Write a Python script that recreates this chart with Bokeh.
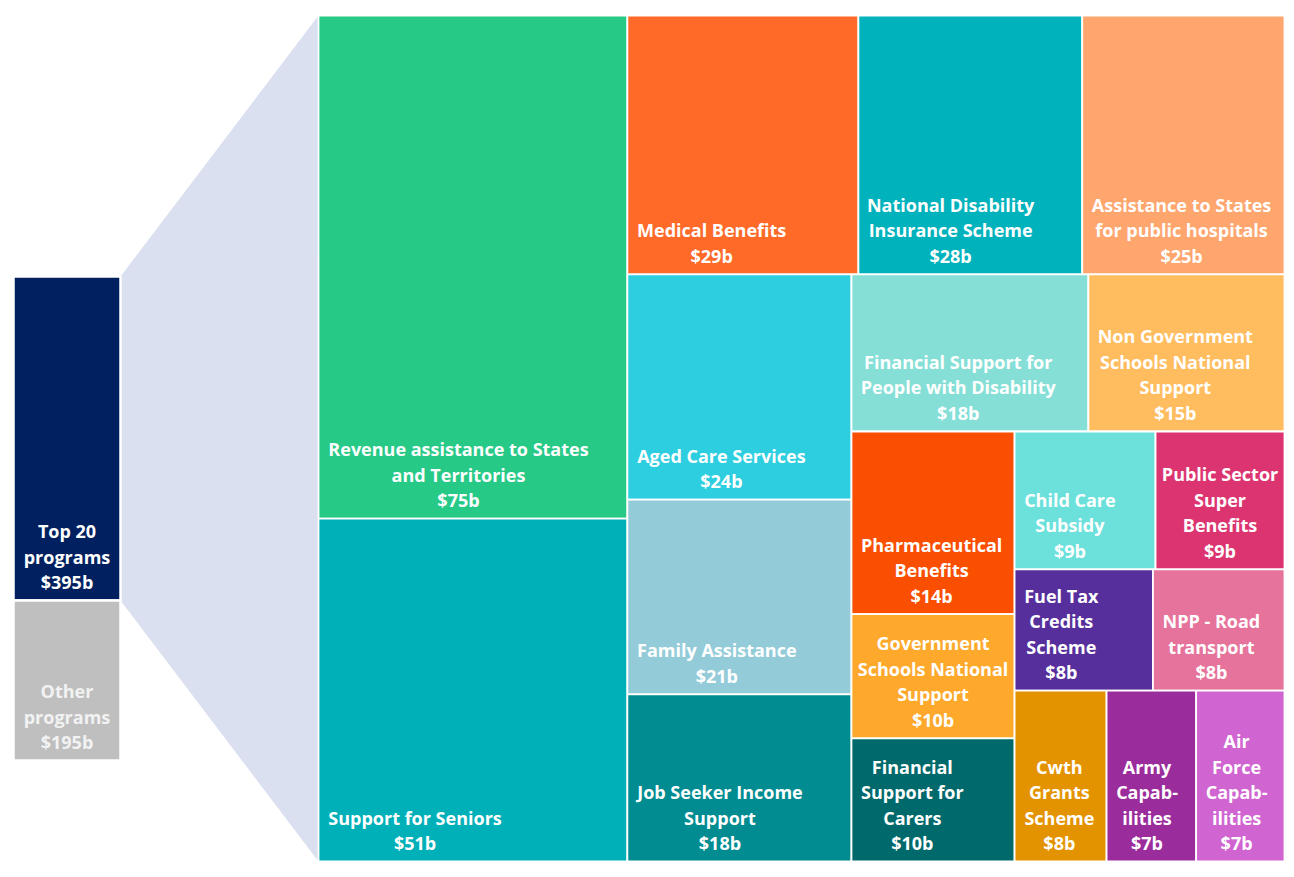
from bokeh.plotting import figure
from bokeh.models import Range1d
from bokeh.embed import file_html
from bokeh.resources import INLINE
from bokeh.core.properties import value

# ---------------- data ----------------
programs = [
    "Revenue assistance to States\nand Territories",
    "Support for Seniors",
    "Medical Benefits",
    "National Disability\nInsurance Scheme",
    "Assistance to States\nfor public hospitals",
    "Aged Care Services",
    "Family Assistance",
    "Job Seeker Income\nSupport",
    "Financial Support for\nPeople with Disability",
    "Non Government\nSchools National\nSupport",
    "Pharmaceutical\nBenefits",
    "Government\nSchools National\nSupport",
    "Financial\nSupport for\nCarers",
    "Child Care\nSubsidy",
    "Public Sector\nSuper\nBenefits",
    "Fuel Tax\nCredits\nScheme",
    "NPP - Road\ntransport",
    "Cwth\nGrants\nScheme",
    "Army\nCapab-\nilities",
    "Air\nForce\nCapab-\nilities",
]
values = [75.1, 51.2, 28.9, 28.0, 25.3, 24.4, 21.1, 18.1, 18.0, 14.9,
          14.4, 9.8, 9.7, 9.4, 8.6, 8.1, 7.7, 7.6, 7.4, 7.3]
colors = ["#27C987", "#00B0B9", "#FF6A28", "#00B2BC", "#FFA56E",
          "#2DCEE0", "#94CBD9", "#008C91", "#85DFD7", "#FFBD5F",
          "#FA4E00", "#FEA82C", "#00696B", "#6CE1DB", "#DB3470",
          "#572F9D", "#E6739B", "#E49300", "#9B2C9C", "#D065D1"]

group_labels = ["Top 20\nprograms", "Other\nprograms"]
group_values = [395, 195]
group_colors = ["#002060", "#BFBFBF"]
group_text_colors = ["#FFFFFF", "#F2F2F2"]
funnel_color = "#DAE0EF"

# ---------------- layout constants ----------------
W, H = 1294, 877
TM_X0, TM_Y0, TM_X1, TM_Y1 = 318, 15, 1284, 861
BAR_X0, BAR_X1, BAR_Y0, BAR_Y1 = 13, 120, 276, 760
FONT = value("Open Sans")
FSIZE = "18px"
LINE_H = 25.5
BOTTOM_OFF = 18.5


# ---------------- squarify ----------------
def worst(sizes, x, y, dx, dy):
    s = sum(sizes)
    if dx >= dy:
        w = s / dy
        return max(max(w / (a / w), (a / w) / w) for a in sizes)
    h = s / dx
    return max(max(h / (a / h), (a / h) / h) for a in sizes)


def layout_row(sizes, x, y, dx, dy):
    rects = []
    if dx >= dy:
        w = sum(sizes) / dy
        cy = y
        for a in sizes:
            h = a / w
            rects.append((x, cy, x + w, cy + h))
            cy += h
        return rects, (x + w, y, dx - w, dy)
    h = sum(sizes) / dx
    cx = x
    for a in sizes:
        w = a / h
        rects.append((cx, y, cx + w, y + h))
        cx += w
    return rects, (x, y + h, dx, dy - h)


def squarify(sizes, x, y, dx, dy):
    if not sizes:
        return []
    if len(sizes) == 1:
        return layout_row(sizes, x, y, dx, dy)[0]
    i = 1
    while i < len(sizes) and worst(sizes[:i], x, y, dx, dy) >= worst(sizes[:i + 1], x, y, dx, dy):
        i += 1
    rects, (nx, ny, ndx, ndy) = layout_row(sizes[:i], x, y, dx, dy)
    return rects + squarify(sizes[i:], nx, ny, ndx, ndy)


dx, dy = TM_X1 - TM_X0, TM_Y1 - TM_Y0
tot = sum(values)
areas = [v / tot * dx * dy for v in values]
rects = squarify(areas, TM_X0, TM_Y0, dx, dy)

# ---------------- text width estimate (bold sans, em units) ----------------
CW = {" ": .26, "a": .60, "b": .64, "c": .51, "d": .64, "e": .60, "f": .39, "g": .56,
      "h": .66, "i": .30, "j": .30, "k": .60, "l": .30, "m": .99, "n": .66, "o": .62,
      "p": .64, "r": .45, "s": .51, "t": .42, "u": .66, "v": .56, "w": .84, "x": .58,
      "y": .56, "z": .49, "$": .57, "-": .32, "A": .69, "B": .68, "C": .64, "D": .73,
      "F": .56, "G": .73, "I": .36, "J": .30, "M": .94, "N": .77, "P": .65, "R": .67,
      "S": .56, "T": .58}


def est_width(s, px=18.0):
    w = 0.0
    for ch in s:
        if ch in CW:
            w += CW[ch]
        elif ch.isdigit():
            w += .57
        elif ch.isupper():
            w += .66
        else:
            w += .58
    return w * px


p = figure(width=W, height=H, x_range=Range1d(0, W), y_range=Range1d(H, 0),
           x_axis_type=None, y_axis_type=None, toolbar_location=None,
           output_backend="svg", min_border=0)
p.grid.visible = False
p.outline_line_color = None
p.background_fill_color = "white"
p.border_fill_color = "white"

# left stacked bar
scale = (BAR_Y1 - BAR_Y0) / sum(group_values)
gy = [BAR_Y0]
for gv in group_values:
    gy.append(gy[-1] + gv * scale)
top_bar_bottom = gy[1]

# funnel
p.patch([BAR_X1, TM_X0, TM_X0, BAR_X1], [BAR_Y0, TM_Y0, TM_Y1, top_bar_bottom],
        fill_color=funnel_color, line_color=None)

p.quad(left=[BAR_X0] * 2, right=[BAR_X1] * 2, top=gy[:-1], bottom=gy[1:],
       fill_color=group_colors, line_color="white", line_width=2.5)

tx, ty, tt, tc = [], [], [], []
for i, (lab, gv) in enumerate(zip(group_labels, group_values)):
    lines = lab.split("\n") + ["$%db" % gv]
    n = len(lines)
    for k, ln in enumerate(lines):
        tx.append((BAR_X0 + BAR_X1) / 2)
        ty.append(gy[i + 1] - BOTTOM_OFF - (n - 1 - k) * LINE_H)
        tt.append(ln)
        tc.append(group_text_colors[i])
p.text(x=tx, y=ty, text=tt, text_color=tc, text_align="center", text_baseline="middle",
       text_font=FONT, text_font_style="bold", text_font_size=FSIZE)

# treemap cells
p.quad(left=[r[0] for r in rects], right=[r[2] for r in rects],
       top=[r[1] for r in rects], bottom=[r[3] for r in rects],
       fill_color=colors, line_color="white", line_width=1.8)

lx, ly, lt = [], [], []
for r, lab, v in zip(rects, programs, values):
    x0, y0, x1, y1 = r
    lines = lab.split("\n") + ["$%db" % round(v)]
    bw = max(est_width(s) for s in lines)
    pad = 9.5
    if (x1 - x0) - 2 * pad < bw:
        pad = max(((x1 - x0) - bw) / 2, 2)
    cx = x0 + pad + bw / 2
    n = len(lines)
    for k, ln in enumerate(lines):
        lx.append(cx)
        ly.append(y1 - BOTTOM_OFF - (n - 1 - k) * LINE_H)
        lt.append(ln)
p.text(x=lx, y=ly, text=lt, text_color="white", text_align="center", text_baseline="middle",
       text_font=FONT, text_font_style="bold", text_font_size=FSIZE)

open("out.html", "w").write(file_html(p, INLINE))
